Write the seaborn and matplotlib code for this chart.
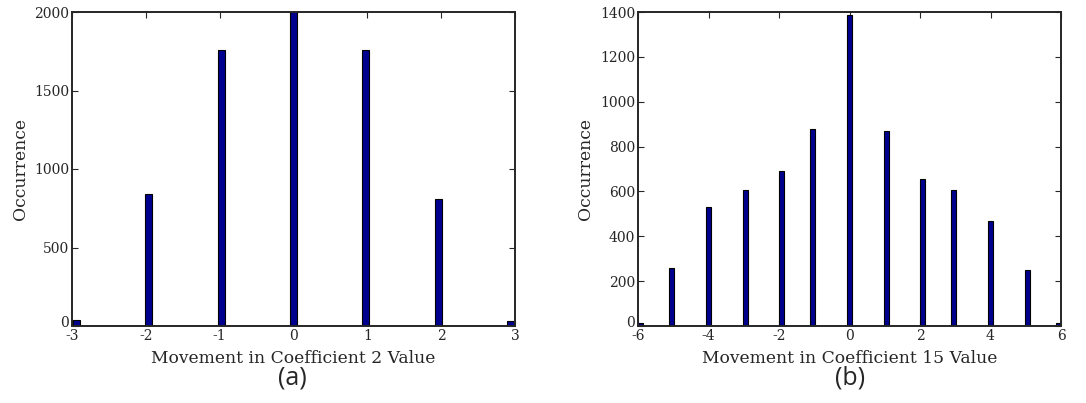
import matplotlib
matplotlib.use('Agg')
import matplotlib.pyplot as plt
import matplotlib.transforms as mtransforms
import seaborn as sns
import numpy as np
import pandas as pd

# coefficient 2 movement histogram
coef2_moves = [-3, -2, -1, 0, 1, 2, 3]
coef2_counts = [40, 840, 1760, 2000, 1755, 810, 35]

# coefficient 15 movement histogram
coef15_moves = [-6, -5, -4, -3, -2, -1, 0, 1, 2, 3, 4, 5, 6]
coef15_counts = [15, 260, 530, 605, 690, 880, 1385, 870, 655, 605, 470, 250, 15]

sns.set_style("ticks")
plt.rcParams['font.family'] = ['DejaVu Serif']
plt.rcParams['axes.unicode_minus'] = False
plt.rcParams['xtick.direction'] = 'in'
plt.rcParams['ytick.direction'] = 'in'

fig = plt.figure(figsize=(10.86, 4.03), dpi=100)
ax1 = fig.add_axes([72 / 1086, 1 - 326 / 403, 443 / 1086, 314 / 403])
ax2 = fig.add_axes([638 / 1086, 1 - 326 / 403, 423 / 1086, 314 / 403])

df1 = pd.DataFrame({"move": coef2_moves, "count": coef2_counts})
df2 = pd.DataFrame({"move": coef15_moves, "count": coef15_counts})

sns.histplot(data=df1, x="move", weights="count", bins=49, binrange=(-3, 3),
             shrink=0.8, color="#00008f", edgecolor="black", linewidth=0.8,
             alpha=1, ax=ax1)
sns.histplot(data=df2, x="move", weights="count", bins=81, binrange=(-6, 6),
             shrink=0.95, color="#00008f", edgecolor="black", linewidth=0.8,
             alpha=1, ax=ax2)

ax1.set_xlim(-3, 3)
ax1.set_ylim(0, 2000)
ax1.set_xticks(range(-3, 4))
ax1.set_yticks([0, 500, 1000, 1500, 2000])
ax1.set_xlabel("Movement in Coefficient 2 Value", fontsize=12.3, labelpad=5)
ax1.set_ylabel("Occurrence", fontsize=12.3)

ax2.set_xlim(-6, 6)
ax2.set_ylim(0, 1400)
ax2.set_xticks(range(-6, 7, 2))
ax2.set_yticks(range(0, 1401, 200))
ax2.set_xlabel("Movement in Coefficient 15 Value", fontsize=12.3, labelpad=5)
ax2.set_ylabel("Occurrence", fontsize=12.3)

for ax in (ax1, ax2):
    for s in ax.spines.values():
        s.set_visible(True)
        s.set_linewidth(1.4)
    ax.tick_params(top=True, right=True, length=4, width=0.8, labelsize=10, pad=2)
    # nudge the zero label up so it clears the first x label
    lbl = ax.get_yticklabels()[0]
    lbl.set_transform(lbl.get_transform() + mtransforms.ScaledTranslation(0, 3 / 72, fig.dpi_scale_trans))

fig.text(292 / 1086, 1 - 378 / 403, "(a)", ha="center", va="center",
         fontsize=18, family="Open Sans")
fig.text(850 / 1086, 1 - 378 / 403, "(b)", ha="center", va="center",
         fontsize=18, family="Open Sans")

fig.savefig("out.png", dpi=100)
